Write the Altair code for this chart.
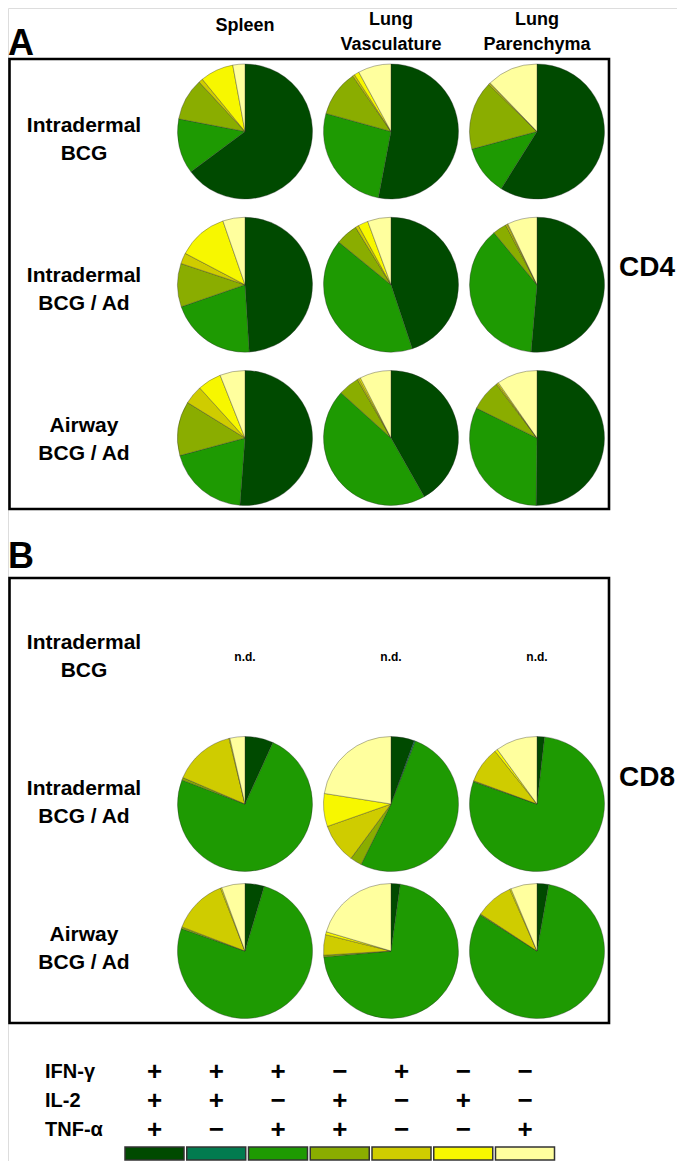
import altair as alt
import pandas as pd

# ---------------- data ----------------
categories = ["+++", "++-", "+-+", "-++", "+--", "-+-", "--+"]
colors = ["#004a00", "#027b4f", "#1e9a02", "#8aad00", "#cfcc00", "#f7f700", "#ffff9e"]
markers = ["IFN-γ", "IL-2", "TNF-α"]
ifng_signs = ["+", "+", "+", "−", "+", "−", "−"]
il2_signs = ["+", "+", "−", "+", "−", "+", "−"]
tnfa_signs = ["+", "−", "+", "+", "−", "−", "+"]

tissues = ["Spleen", "Lung Vasculature", "Lung Parenchyma"]
tissue_labels = ["Spleen", "Lung\nVasculature", "Lung\nParenchyma"]
groups = ["Intradermal BCG", "Intradermal BCG / Ad", "Airway BCG / Ad"]
group_labels = ["Intradermal\nBCG", "Intradermal\nBCG / Ad", "Airway\nBCG / Ad"]

# CD4 (panel A) fractions, in category order
cd4_idbcg_spleen = [0.648, 0.0, 0.132, 0.101, 0.010, 0.080, 0.029]
cd4_idbcg_vasc = [0.530, 0.0, 0.263, 0.111, 0.005, 0.012, 0.079]
cd4_idbcg_paren = [0.589, 0.0, 0.119, 0.165, 0.003, 0.002, 0.122]
cd4_idad_spleen = [0.490, 0.0, 0.207, 0.104, 0.026, 0.120, 0.053]
cd4_idad_vasc = [0.449, 0.0, 0.410, 0.053, 0.008, 0.024, 0.056]
cd4_idad_paren = [0.514, 0.0, 0.376, 0.033, 0.004, 0.002, 0.071]
cd4_awad_spleen = [0.512, 0.0, 0.196, 0.130, 0.045, 0.057, 0.060]
cd4_awad_vasc = [0.418, 0.0, 0.449, 0.050, 0.004, 0.004, 0.075]
cd4_awad_paren = [0.502, 0.0, 0.321, 0.074, 0.003, 0.003, 0.097]

# CD8 (panel B) fractions; Intradermal BCG not determined
cd8_idad_spleen = [0.068, 0.0, 0.740, 0.006, 0.148, 0.002, 0.036]
cd8_idad_vasc = [0.056, 0.003, 0.514, 0.028, 0.095, 0.079, 0.225]
cd8_idad_paren = [0.018, 0.0, 0.786, 0.002, 0.087, 0.007, 0.100]
cd8_awad_spleen = [0.046, 0.0, 0.758, 0.004, 0.133, 0.003, 0.056]
cd8_awad_vasc = [0.022, 0.0, 0.714, 0.004, 0.049, 0.007, 0.204]
cd8_awad_paren = [0.028, 0.0, 0.814, 0.002, 0.092, 0.003, 0.063]

cd4_sets = [
    (groups[0], tissues[0], cd4_idbcg_spleen), (groups[0], tissues[1], cd4_idbcg_vasc),
    (groups[0], tissues[2], cd4_idbcg_paren), (groups[1], tissues[0], cd4_idad_spleen),
    (groups[1], tissues[1], cd4_idad_vasc), (groups[1], tissues[2], cd4_idad_paren),
    (groups[2], tissues[0], cd4_awad_spleen), (groups[2], tissues[1], cd4_awad_vasc),
    (groups[2], tissues[2], cd4_awad_paren),
]
cd8_sets = [
    (groups[1], tissues[0], cd8_idad_spleen), (groups[1], tissues[1], cd8_idad_vasc),
    (groups[1], tissues[2], cd8_idad_paren), (groups[2], tissues[0], cd8_awad_spleen),
    (groups[2], tissues[1], cd8_awad_vasc), (groups[2], tissues[2], cd8_awad_paren),
]


def long_df(sets):
    rows = []
    for g, t, vals in sets:
        for i, (c, v) in enumerate(zip(categories, vals)):
            rows.append({"group": g, "tissue": t, "category": c, "order": i, "value": v})
    return pd.DataFrame(rows)


df_cd4 = long_df(cd4_sets)
df_cd8 = long_df(cd8_sets)

FONT = "Liberation Sans"
one = pd.DataFrame({"k": [0]})

color_scale = alt.Scale(domain=categories, range=colors)
x_tissue = alt.X("tissue:N", scale=alt.Scale(type="point", domain=tissues, range=[237, 529], padding=0), axis=None)


def y_group(rng):
    return alt.Y("group:N", scale=alt.Scale(type="point", domain=groups, range=rng, padding=0), axis=None)


YA = [123.5, 430]
YB = [649, 943]
YA_LABEL = [132, 432]
YB_LABEL = [649, 941]


def pie_layer(df, yrange):
    return (
        alt.Chart(df)
        .transform_filter("datum.value > 0")
        .transform_stack(
            stack="value", groupby=["tissue", "group"], as_=["t0", "t1"],
            sort=[alt.SortField("order", order="ascending")], offset="normalize",
        )
        .mark_arc(outerRadius=67.5, stroke="#2b2b2b", strokeWidth=0.5, strokeOpacity=0.7)
        .encode(
            x=x_tissue,
            y=y_group(yrange),
            theta=alt.Theta("t0:Q", scale=alt.Scale(domain=[0, 1], range=[0, 6.283185307]), stack=False),
            theta2="t1:Q",
            color=alt.Color("category:N", scale=color_scale, legend=None),
        )
    )


def frame(y0, y1):
    return alt.Chart(one).mark_rect(filled=False, stroke="black", strokeWidth=2.6).encode(
        x=alt.value(1.5), x2=alt.value(601), y=alt.value(y0), y2=alt.value(y1)
    )


frameA = frame(51, 501)
frameB = frame(570, 1015)

piesA = pie_layer(df_cd4, YA)
piesB = pie_layer(df_cd8, YB)

header_df = pd.DataFrame({"tissue": tissues, "label": tissue_labels})
headers_two = alt.Chart(header_df).transform_filter("indexof(datum.label, '\\n') >= 0").mark_text(
    font=FONT, fontSize=18, fontWeight="bold", lineBreak="\n", lineHeight=25, baseline="alphabetic", align="center"
).encode(x=x_tissue, y=alt.value(17), text="label:N")
headers_one = alt.Chart(header_df).transform_filter("indexof(datum.label, '\\n') < 0").mark_text(
    font=FONT, fontSize=18, fontWeight="bold", baseline="alphabetic", align="center"
).encode(x=x_tissue, y=alt.value(23), text="label:N")

labels_df = pd.DataFrame({"group": groups, "label": group_labels})


def row_labels(rng):
    return alt.Chart(labels_df).mark_text(
        font=FONT, fontSize=21, fontWeight="bold", lineBreak="\n", lineHeight=28, baseline="middle",
        align="center", dy=-14,
    ).encode(x=alt.value(76), y=y_group(rng), text="label:N")


labelsA = row_labels(YA_LABEL)
labelsB = row_labels(YB_LABEL)

nd = alt.Chart(pd.DataFrame({"tissue": tissues, "group": [groups[0]] * 3, "label": ["n.d."] * 3})).mark_text(
    font=FONT, fontSize=12, fontWeight="bold", baseline="middle", align="center"
).encode(x=x_tissue, y=y_group(YB), text="label:N")

letterA = alt.Chart(pd.DataFrame({"t": ["A"]})).mark_text(
    font=FONT, fontSize=36, fontWeight="bold", align="left", baseline="alphabetic"
).encode(x=alt.value(0), y=alt.value(47), text="t:N")
letterB = alt.Chart(pd.DataFrame({"t": ["B"]})).mark_text(
    font=FONT, fontSize=36, fontWeight="bold", align="left", baseline="alphabetic"
).encode(x=alt.value(0), y=alt.value(560), text="t:N")

cd4 = alt.Chart(pd.DataFrame({"t": ["CD4"]})).mark_text(
    font=FONT, fontSize=28, fontWeight="bold", align="left", baseline="middle"
).encode(x=alt.value(611), y=alt.value(260), text="t:N")
cd8 = alt.Chart(pd.DataFrame({"t": ["CD8"]})).mark_text(
    font=FONT, fontSize=28, fontWeight="bold", align="left", baseline="middle"
).encode(x=alt.value(611), y=alt.value(770), text="t:N")

# legend
sign_rows = []
for m, signs in zip(markers, [ifng_signs, il2_signs, tnfa_signs]):
    for c, s in zip(categories, signs):
        sign_rows.append({"marker": m, "category": c, "sign": s})
signs_df = pd.DataFrame(sign_rows)

x_cat = alt.X("category:N", scale=alt.Scale(type="point", domain=categories, range=[146.5, 517], padding=0), axis=None)
y_marker = alt.Y("marker:N", scale=alt.Scale(type="point", domain=markers, range=[1064, 1122], padding=0), axis=None)

signs = alt.Chart(signs_df).mark_text(
    font=FONT, fontSize=26, fontWeight="bold", align="center", baseline="middle"
).encode(x=x_cat, y=y_marker, text="sign:N")

marker_labels = alt.Chart(pd.DataFrame({"marker": markers})).mark_text(
    font=FONT, fontSize=20, fontWeight="bold", align="left", baseline="middle"
).encode(x=alt.value(37), y=y_marker, text="marker:N")

boxes = alt.Chart(pd.DataFrame({"category": categories})).mark_rect(
    width=59, stroke="#333333", strokeWidth=1.5
).encode(
    x=x_cat, y=alt.value(1139), y2=alt.value(1152),
    color=alt.Color("category:N", scale=color_scale, legend=None),
)

chart = (
    alt.layer(
        frameA, frameB, piesA, piesB, headers_two, headers_one, labelsA, labelsB, nd,
        letterA, letterB, cd4, cd8, signs, marker_labels, boxes,
    )
    .resolve_scale(x="independent", y="independent")
    .properties(width=669, height=1153, autosize=alt.AutoSizeParams(type="none"), padding=0)
    .configure_view(strokeWidth=0)
    .configure(background="white")
)

chart.save("out.html", embed_options={"renderer": "svg", "actions": False})
